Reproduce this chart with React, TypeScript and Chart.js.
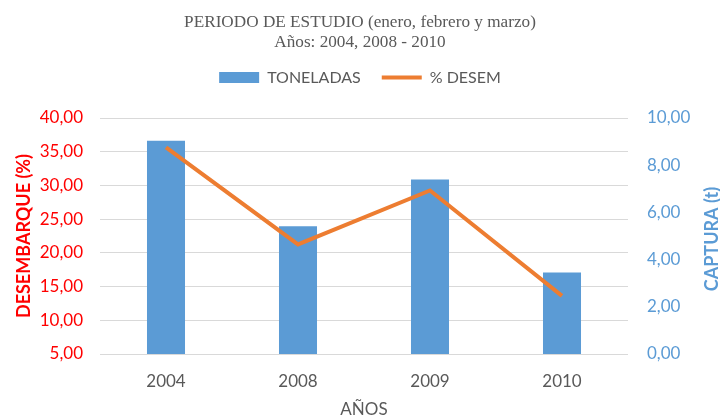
import React, { useEffect, useRef } from "react";
import { Chart, registerables } from "chart.js";

Chart.register(...registerables);

const categories = ["2004", "2008", "2009", "2010"];
const toneladas = [9.04, 5.41, 7.39, 3.45];
const desem = [35.65, 21.26, 29.25, 13.62];
const titleLines = ["PERIODO DE ESTUDIO (enero, febrero y marzo)", "Años: 2004, 2008 - 2010"];

const BLUE = "#5B9BD5";
const ORANGE = "#ED7D31";
const GRAY = "#595959";
const RED = "#FF0000";

const fmt = (v: number | string) => Number(v).toFixed(2).replace(".", ",");

const rightTitlePlugin = {
  id: "rightTitle",
  beforeLayout(chart: any) {
    const lg = chart.legend;
    if (lg && !lg.__patched) {
      const orig = lg.fit.bind(lg);
      lg.fit = function () {
        orig();
        this.height += 22.5;
      };
      lg.__patched = true;
    }
  },
  afterDraw(chart: any) {
    const ctx = chart.ctx;
    const area = chart.chartArea;
    ctx.save();
    ctx.translate(712, (area.top + area.bottom) / 2 + 3);
    ctx.rotate(-Math.PI / 2);
    ctx.font = "bold 18px Lato";
    ctx.fillStyle = BLUE;
    ctx.textAlign = "center";
    ctx.textBaseline = "middle";
    ctx.fillText("CAPTURA (t)", 0, 0);
    ctx.restore();
  },
};

export default function App() {
  const ref = useRef<HTMLCanvasElement>(null);
  useEffect(() => {
    document.body.style.margin = "0";
    const chart = new Chart(ref.current!, {
      type: "bar",
      data: {
        labels: categories,
        datasets: [
          {
            type: "bar",
            label: "TONELADAS",
            data: toneladas,
            backgroundColor: BLUE,
            yAxisID: "y1",
            barPercentage: 0.288,
            categoryPercentage: 1,
            order: 1,
          } as any,
          {
            type: "line",
            label: "% DESEM",
            data: desem,
            borderColor: ORANGE,
            backgroundColor: ORANGE,
            borderWidth: 4,
            pointRadius: 0,
            tension: 0,
            yAxisID: "y",
            order: 0,
          } as any,
        ],
      },
      options: {
        responsive: false,
        animation: false,
        layout: { padding: 0 },
        plugins: {
          title: {
            display: true,
            text: titleLines,
            color: GRAY,
            font: { family: "Liberation Serif", size: 17.2, weight: "normal", lineHeight: 20 / 17.2 },
            padding: { top: 12, bottom: -3.5 },
          },
          legend: {
            display: true,
            labels: {
              color: GRAY,
              font: { family: "Lato", size: 16 },
              usePointStyle: true,
              pointStyleWidth: 40,
              boxHeight: 11,
              padding: 21,
              generateLabels: (c: any) => {
                const items = (Chart.defaults.plugins.legend.labels as any)
                  .generateLabels(c)
                  .sort((a: any, b: any) => a.datasetIndex - b.datasetIndex);
                items.forEach((it: any) => {
                  if (it.datasetIndex === 0) {
                    it.pointStyle = "rect";
                    it.lineWidth = 0;
                  } else {
                    it.pointStyle = "line";
                    it.lineWidth = 4;
                    it.strokeStyle = ORANGE;
                  }
                });
                return items;
              },
            },
          },
          tooltip: { enabled: false },
        },
        scales: {
          x: {
            grid: { display: false, drawTicks: false },
            border: { display: false },
            ticks: { color: GRAY, font: { family: "Lato", size: 17 }, padding: 17 },
            title: {
              display: true,
              text: "AÑOS",
              color: GRAY,
              font: { family: "Lato", size: 17 },
              padding: { top: 0, bottom: 0 },
            },
            afterFit: (s: any) => {
              s.height = 66;
            },
          },
          y: {
            position: "left",
            min: 5,
            max: 40,
            ticks: { stepSize: 5, color: RED, font: { family: "Lato", size: 17 }, padding: 17, callback: (v: any) => fmt(v) },
            grid: { color: "#D9D9D9", lineWidth: 1, drawTicks: false },
            border: { display: false },
            title: {
              display: true,
              text: "DESEMBARQUE (%)",
              color: RED,
              font: { family: "Lato", size: 18, weight: "bold", lineHeight: 1.2 },
              padding: { top: 13, bottom: 0 },
            },
            afterFit: (s: any) => {
              s.width = 100;
            },
          },
          y1: {
            position: "right",
            min: 0,
            max: 10,
            ticks: { stepSize: 2, color: BLUE, font: { family: "Lato", size: 17 }, padding: 19, callback: (v: any) => fmt(v) },
            grid: { display: false, drawTicks: false },
            border: { display: false },
            afterFit: (s: any) => {
              s.width = 92;
            },
          },
        },
      } as any,
      plugins: [rightTitlePlugin],
    });
    return () => chart.destroy();
  }, []);
  return (
    <div style={{ width: 720, height: 420, background: "#fff" }}>
      <canvas ref={ref} width={720} height={420} style={{ display: "block" }} />
    </div>
  );
}
